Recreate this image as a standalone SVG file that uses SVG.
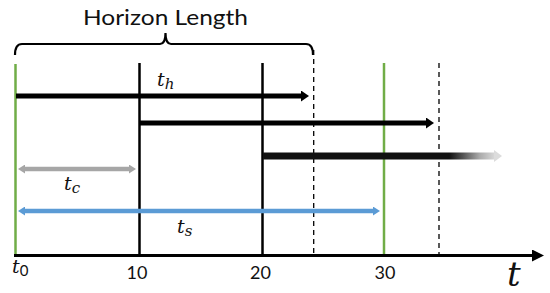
<svg xmlns="http://www.w3.org/2000/svg" width="550" height="293" viewBox="0 0 550 293">
<style>
.lbl{font-family:Lato,"Open Sans",sans-serif;fill:#111;}
.math{font-family:"DejaVu Serif","Liberation Serif",serif;font-style:italic;fill:#111;}
.vblack{stroke:#000;stroke-width:2.5;}
.vgreen{stroke:#70AD47;stroke-width:2.5;}
.vdash{stroke:#000;stroke-width:1.3;stroke-dasharray:5,4;}
</style>
<defs>
<marker id="ahB" markerUnits="userSpaceOnUse" markerWidth="8" markerHeight="11" viewBox="0 0 8 11" refX="1" refY="5.5" orient="auto"><path d="M0,0 L8,5.5 L0,11 z" fill="#000"/></marker>
<marker id="ahF" markerUnits="userSpaceOnUse" markerWidth="8" markerHeight="12" viewBox="0 0 8 12" refX="1" refY="6" orient="auto"><path d="M0,0 L8,6 L0,12 z" fill="#dcdcdc"/></marker>
<marker id="ahG" markerUnits="userSpaceOnUse" markerWidth="7" markerHeight="9" viewBox="0 0 7 9" refX="1" refY="4.5" orient="auto-start-reverse"><path d="M0,0 L7,4.5 L0,9 z" fill="#A6A6A6"/></marker>
<marker id="ahL" markerUnits="userSpaceOnUse" markerWidth="7" markerHeight="9" viewBox="0 0 7 9" refX="1" refY="4.5" orient="auto-start-reverse"><path d="M0,0 L7,4.5 L0,9 z" fill="#5B9BD5"/></marker>
<marker id="ahX" markerUnits="userSpaceOnUse" markerWidth="12" markerHeight="12" viewBox="0 0 12 12" refX="1" refY="6" orient="auto"><path d="M0,0 L12,6 L0,12 z" fill="#000"/></marker>
<linearGradient id="fade" gradientUnits="userSpaceOnUse" x1="262" y1="0" x2="496" y2="0">
<stop offset="0" stop-color="#111"/>
<stop offset="0.8" stop-color="#111"/>
<stop offset="0.86" stop-color="#555"/>
<stop offset="0.93" stop-color="#aaa"/>
<stop offset="1" stop-color="#dcdcdc"/>
</linearGradient>
</defs>

<g id="horizon-label">
<text class="lbl" x="165.5" y="25" font-size="22" text-anchor="middle" textLength="165" lengthAdjust="spacingAndGlyphs">Horizon Length</text>
<path d="M15,55 Q15,44 22,44 L160,44 Q165.5,44 165.5,33 Q165.5,44 171,44 L306,44 Q313,44 313,55" fill="none" stroke="#000" stroke-width="2.2"/>
</g>

<g id="verticals">
<line class="vgreen" x1="15.5" y1="64" x2="15.5" y2="256"/>
<line class="vblack" x1="139.5" y1="63" x2="139.5" y2="256"/>
<line class="vblack" x1="262.5" y1="63" x2="262.5" y2="256"/>
<line class="vdash" x1="313.7" y1="50" x2="313.7" y2="256"/>
<line class="vgreen" x1="384" y1="63" x2="384" y2="256"/>
<line class="vdash" x1="439" y1="63" x2="439" y2="256"/>
</g>

<g id="connectors">
<line id="arrow-h1" x1="16" y1="96" x2="302" y2="96" stroke="#000" stroke-width="5" marker-end="url(#ahB)"/>
<line id="arrow-h2" x1="140" y1="123" x2="427" y2="123" stroke="#000" stroke-width="5" marker-end="url(#ahB)"/>
<line id="arrow-h3" x1="263" y1="156" x2="495" y2="156" stroke="url(#fade)" stroke-width="7" marker-end="url(#ahF)"/>
<line id="arrow-c" x1="24" y1="169" x2="130" y2="169" stroke="#A6A6A6" stroke-width="4.5" marker-start="url(#ahG)" marker-end="url(#ahG)"/>
<line id="arrow-s" x1="24" y1="211" x2="374" y2="211" stroke="#5B9BD5" stroke-width="4.5" marker-start="url(#ahL)" marker-end="url(#ahL)"/>
<line id="axis" x1="14" y1="255.5" x2="533" y2="255.5" stroke="#000" stroke-width="3" marker-end="url(#ahX)"/>
</g>

<g id="labels">
<text class="math" x="157" y="86" font-size="19">t<tspan font-size="15" dy="3">h</tspan></text>
<text class="math" x="64" y="190" font-size="19">t<tspan font-size="15" dy="3">c</tspan></text>
<text class="math" x="177" y="233" font-size="19">t<tspan font-size="15" dy="3">s</tspan></text>
<text class="math" x="12" y="273" font-size="19">t<tspan class="lbl" font-style="normal" font-size="15" dy="3">0</tspan></text>
<text class="lbl" x="137" y="279" font-size="18" text-anchor="middle">10</text>
<text class="lbl" x="260.5" y="279" font-size="18" text-anchor="middle">20</text>
<text class="lbl" x="385" y="279" font-size="18" text-anchor="middle">30</text>
<text class="math" x="507" y="286" font-size="34">t</text>
</g>
</svg>
